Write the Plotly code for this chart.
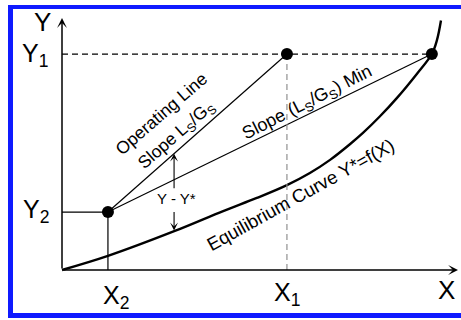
import plotly.graph_objects as go

# Equilibrium curve Y* = f(X), in axis units (axis tips at X = 1, Y = 1)
eq_x = [0.0, 0.116, 0.285, 0.407, 0.492, 0.568, 0.626, 0.677, 0.727, 0.760, 0.803, 0.846, 0.896, 0.934, 0.947, 0.957]
eq_y = [0.0, 0.056, 0.155, 0.234, 0.286, 0.337, 0.385, 0.437, 0.499, 0.544, 0.610, 0.683, 0.778, 0.857, 0.913, 0.99]

# Column end conditions
X2, Y2 = 0.116, 0.230      # lean end
X1, Y1 = 0.568, 0.857      # rich end
X_PINCH = 0.934            # equilibrium value in contact with Y1

FONT = "Liberation Sans, Arial, Helvetica, sans-serif"
BLUE = "#0f1aff"

fig = go.Figure()

# equilibrium curve
fig.add_trace(go.Scatter(x=eq_x, y=eq_y, mode="lines",
                         line=dict(color="black", width=2.4, shape="spline", smoothing=1.0),
                         hoverinfo="skip"))

# operating line and minimum-slope line
fig.add_trace(go.Scatter(x=[X2, X1], y=[Y2, Y1], mode="lines",
                         line=dict(color="black", width=1.2), hoverinfo="skip"))
fig.add_trace(go.Scatter(x=[X2, X_PINCH], y=[Y2, Y1], mode="lines",
                         line=dict(color="black", width=1.2), hoverinfo="skip"))

# guide lines
fig.add_trace(go.Scatter(x=[0, X_PINCH], y=[Y1, Y1], mode="lines",
                         line=dict(color="black", width=1.2, dash="6px,4px"), hoverinfo="skip"))
fig.add_trace(go.Scatter(x=[X1, X1], y=[0, Y1], mode="lines",
                         line=dict(color="#909090", width=1.2, dash="6px,4px"), hoverinfo="skip"))
fig.add_trace(go.Scatter(x=[0, X2, X2], y=[Y2, Y2, 0], mode="lines",
                         line=dict(color="black", width=1.2), hoverinfo="skip"))

# end points
fig.add_trace(go.Scatter(x=[X2, X1, X_PINCH], y=[Y2, Y1, Y1], mode="markers",
                         marker=dict(color="black", size=12), hoverinfo="skip"))


def arrow(x, y, ax, ay, width=1.5, size=1.1):
    fig.add_annotation(x=x, y=y, ax=ax, ay=ay, xref="x", yref="y", axref="x", ayref="y",
                       text="", showarrow=True, arrowhead=3, arrowsize=size,
                       arrowwidth=width, arrowcolor="black", standoff=0)


# coordinate axes
arrow(1.0, 0, 0, 0)
arrow(0, 1.0, 0, 0)

# driving force Y - Y*
xd = 0.283
y_op = Y2 + (xd - X2) * (Y1 - Y2) / (X1 - X2)
arrow(xd, y_op, xd, 0.318, width=1.1, size=1.2)
arrow(xd, 0.157, xd, 0.236, width=1.1, size=1.2)


def label(text, x, y, size=18, angle=0):
    fig.add_annotation(x=x, y=y, xref="x", yref="y", text=text, showarrow=False,
                       textangle=angle, font=dict(family=FONT, size=size, color="black"),
                       xanchor="center", yanchor="middle")


label("Y - Y*", 0.29, 0.282, size=15)
label("Operating Line", 0.25, 0.619, size=17.5, angle=-41)
label("Slope L<sub>S</sub>/G<sub>S</sub>", 0.29, 0.532, size=17.5, angle=-41)
label("Slope (L<sub>S</sub>/G<sub>S</sub>) Min", 0.619, 0.662, angle=-27)
label("Equilibrium Curve Y*=f(X)", 0.603, 0.30, size=18.5, angle=-29)

# axis names and end-condition labels
label("Y", -0.05, 0.984, size=26)
label("Y<sub>1</sub>", -0.068, 0.853, size=25)
label("Y<sub>2</sub>", -0.066, 0.234, size=25)
label("X<sub>2</sub>", 0.137, -0.107, size=25)
label("X<sub>1</sub>", 0.568, -0.095, size=25)
label("X", 0.97, -0.079, size=26)

# blue frame
for x0, y0, x1, y1 in [(8, 5, 461, 9), (8, 5, 13, 318), (8, 313, 461, 318)]:
    fig.add_shape(type="rect", xref="paper", yref="paper",
                  x0=x0 / 461, x1=x1 / 461, y0=1 - y1 / 320, y1=1 - y0 / 320,
                  fillcolor=BLUE, line=dict(width=0))

fig.update_layout(
    width=461, height=320,
    margin=dict(l=0, r=0, t=0, b=0),
    paper_bgcolor="white", plot_bgcolor="white",
    showlegend=False,
    xaxis=dict(range=[-62 / 396, 399 / 396], visible=False, fixedrange=True),
    yaxis=dict(range=[-50 / 252, 270 / 252], visible=False, fixedrange=True),
)

fig.write_html("out.html")
